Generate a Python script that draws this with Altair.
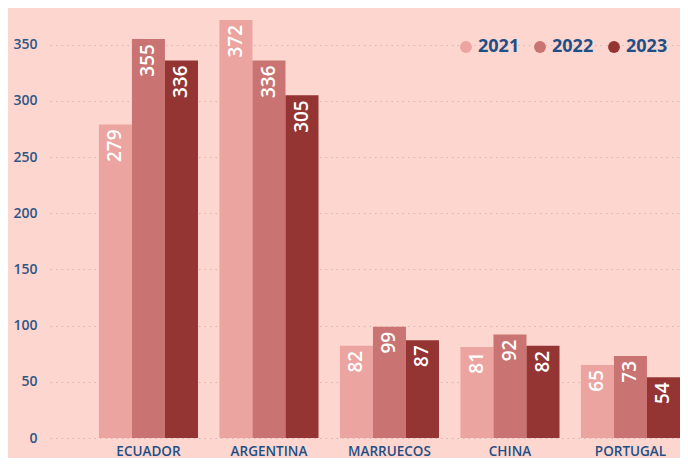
import altair as alt
import pandas as pd

countries = ["ECUADOR", "ARGENTINA", "MARRUECOS", "CHINA", "PORTUGAL"]
years = ["2021", "2022", "2023"]
v2021 = [279, 372, 82, 81, 65]
v2022 = [355, 336, 99, 92, 73]
v2023 = [336, 305, 87, 82, 54]
year_colors = ["#eca4a1", "#c97472", "#943534"]
y_ticks = [0, 50, 100, 150, 200, 250, 300, 350]

rows = []
for yr, vals in zip(years, [v2021, v2022, v2023]):
    for c, v in zip(countries, vals):
        rows.append({"country": c, "year": yr, "value": v})
df = pd.DataFrame(rows)

BG = "#fcd6cf"
BLUE = "#1f4f85"
FONT = "Open Sans"

base = alt.Chart(df).encode(
    x=alt.X(
        "country:N",
        sort=countries,
        scale=alt.Scale(paddingInner=0.178, paddingOuter=0.203, align=1.0),
        axis=alt.Axis(
            title=None, labelAngle=0, ticks=False, domain=False,
            labelFont=FONT, labelFontSize=13.5, labelFontWeight=600,
            labelColor=BLUE, labelPadding=6, grid=False,
        ),
    ),
    xOffset=alt.XOffset("year:N", sort=years, scale=alt.Scale(paddingInner=0, paddingOuter=0)),
    y=alt.Y(
        "value:Q",
        scale=alt.Scale(domain=[0, 380], nice=False),
        axis=alt.Axis(
            title=None, values=y_ticks, ticks=False, domain=False,
            labelFont=FONT, labelFontSize=14, labelFontWeight=600,
            labelColor="#2f5686", labelPadding=13,
            grid=True, gridDash=[1.5, 4], gridColor="#d4b8b3", gridWidth=1,
        ),
    ),
)

bars = base.mark_bar().encode(
    color=alt.Color(
        "year:N",
        scale=alt.Scale(domain=years, range=year_colors),
        legend=alt.Legend(
            title=None, orient="none", legendX=407, legendY=27,
            direction="horizontal", symbolType="circle", symbolSize=140,
            symbolStrokeWidth=0, labelFont=FONT, labelFontSize=18,
            labelFontWeight="bold", labelColor=BLUE, columnPadding=11,
            labelOffset=3,
        ),
    )
)

labels = base.mark_text(
    angle=270, align="right", baseline="middle", dx=-5,
    color="white", font=FONT, fontSize=19, fontWeight=600,
).encode(text=alt.Text("value:Q"))

chart = (
    alt.layer(bars, labels)
    .properties(
        width=630, height=427,
        padding={"left": 42, "top": 3, "right": 0, "bottom": 20},
        autosize=alt.AutoSizeParams(type="none"),
        background=BG,
    )
    .configure_view(stroke=None)
)

chart.save("out.html", embed_options={"renderer": "svg", "actions": False})
